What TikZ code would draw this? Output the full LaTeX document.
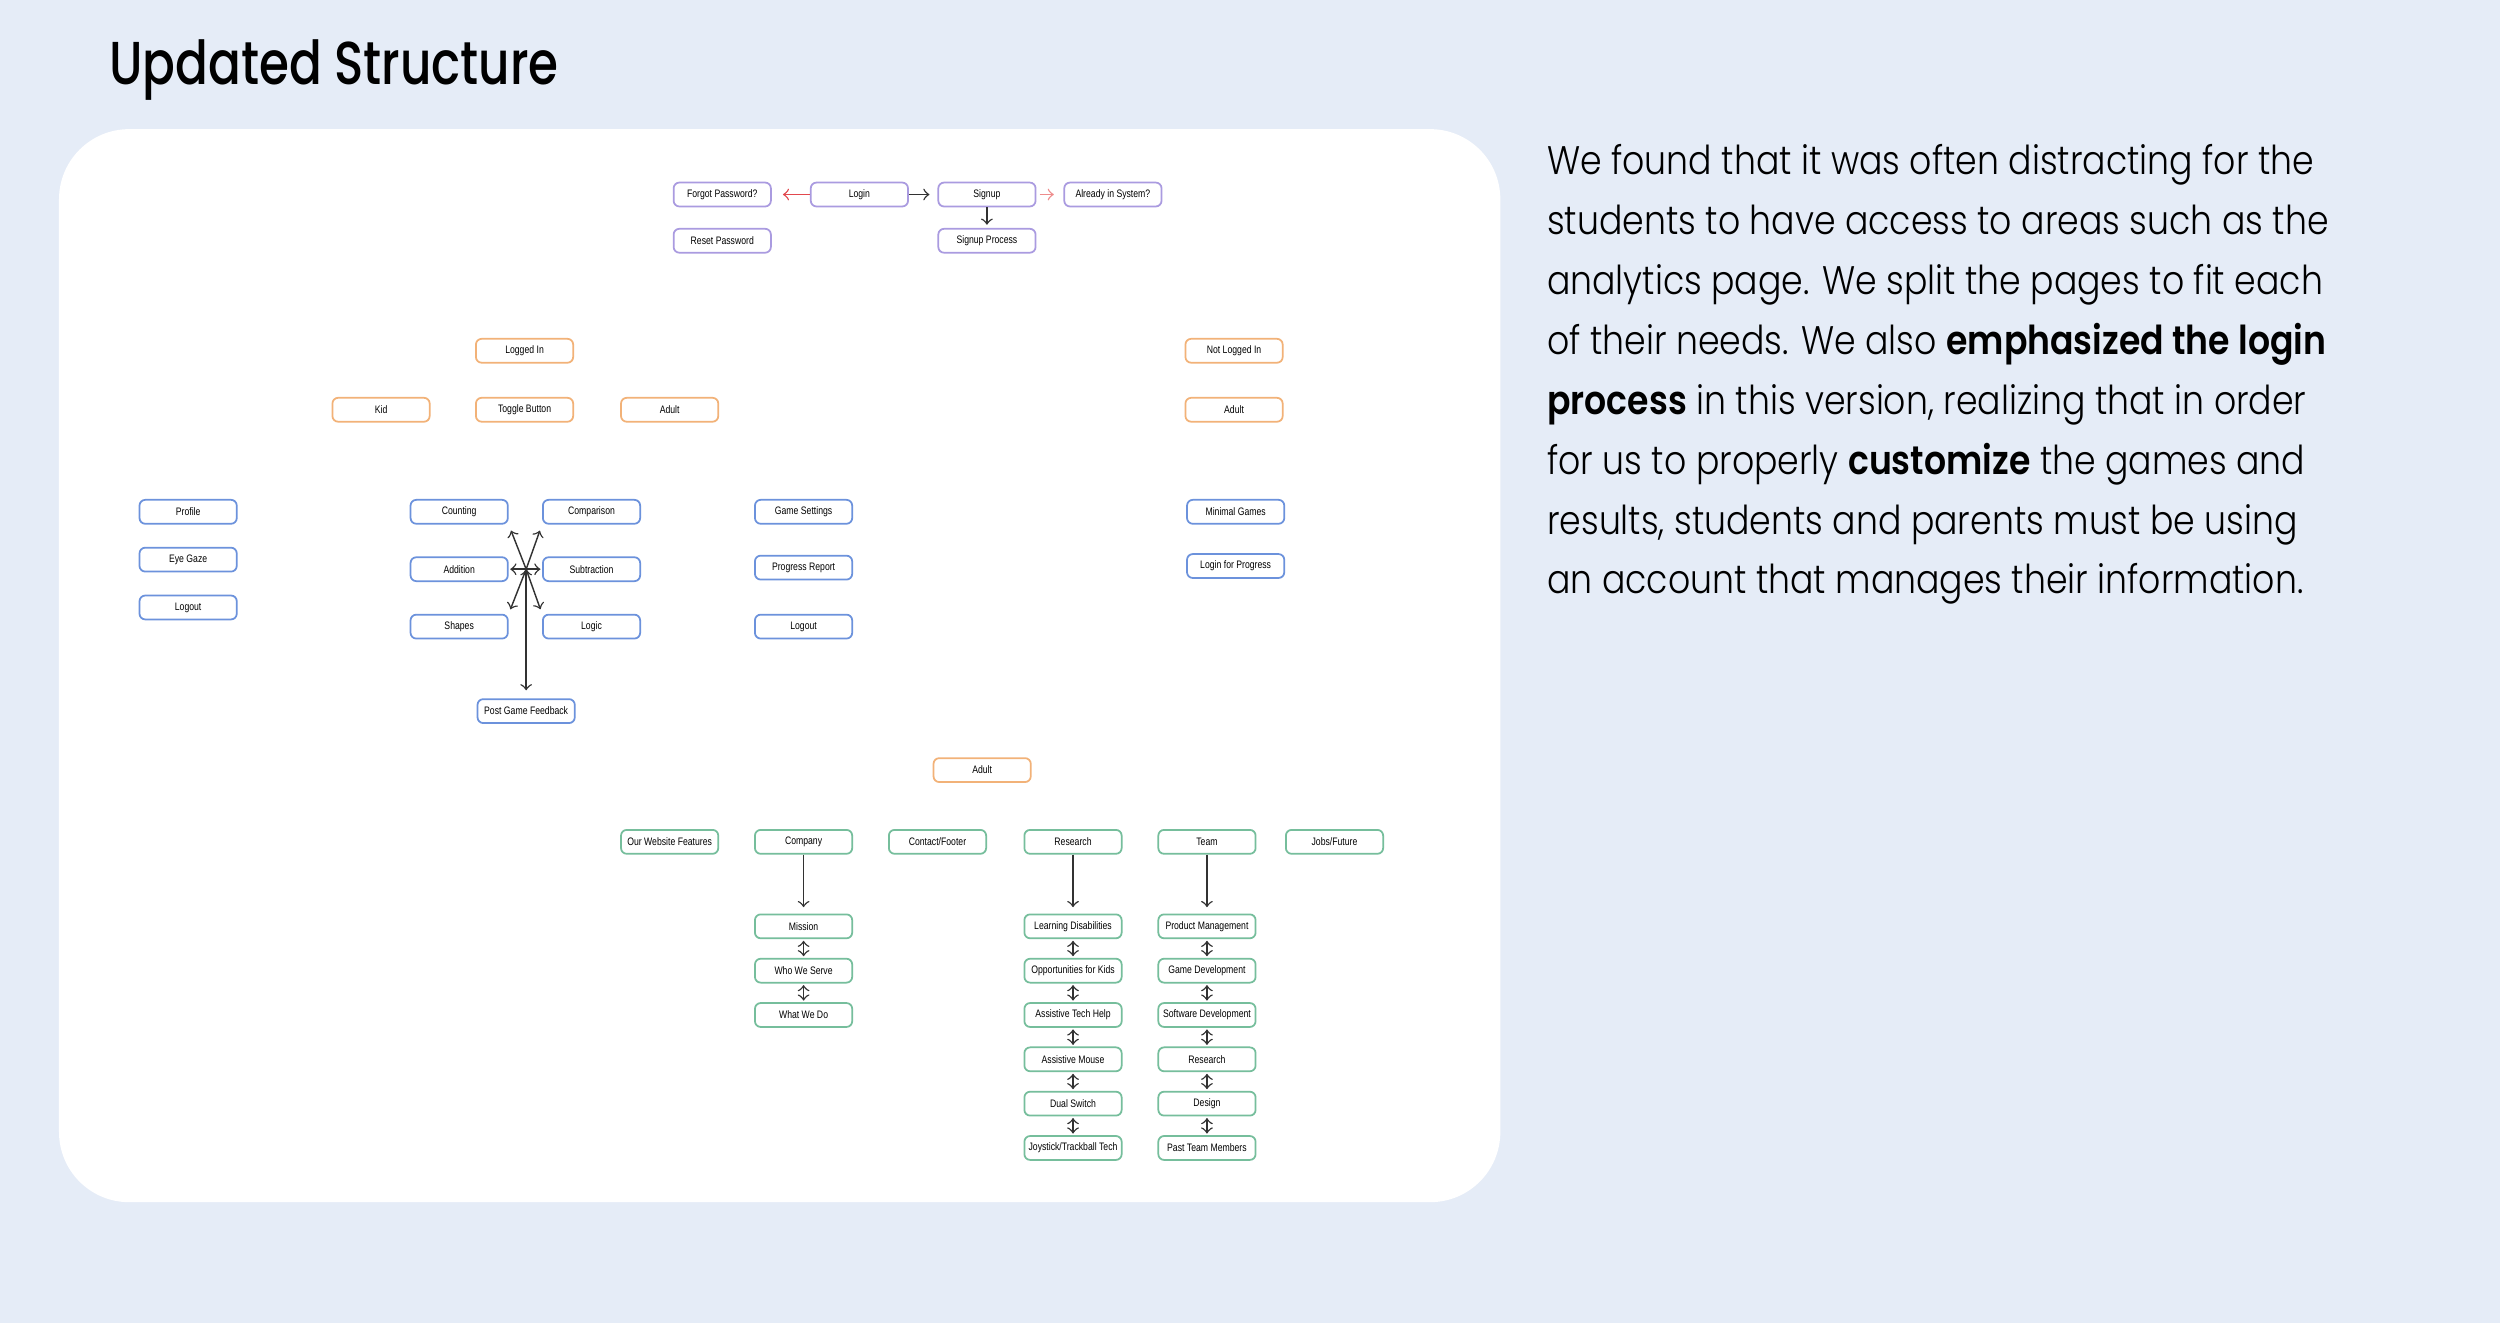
\documentclass[tikz,border=0pt]{standalone}
\usepackage{fontspec}
\setmainfont{Liberation Sans}
\newfontfamily\labelfont{Liberation Sans}[FakeStretch=0.8]
\newfontfamily\headfont{Poppins Medium}[FakeStretch=0.8]
\newfontfamily\bodyfont{Poppins Light}[BoldFont=Poppins SemiBold, FakeStretch=0.87]
\usetikzlibrary{positioning}

\definecolor{bgblue}{RGB}{229,236,247}
\definecolor{boxpurple}{RGB}{170,155,224}
\definecolor{boxorange}{RGB}{242,178,120}
\definecolor{boxblue}{RGB}{108,146,220}
\definecolor{boxgreen}{RGB}{118,190,156}
\definecolor{linkgrey}{RGB}{50,50,50}
\definecolor{linkred}{RGB}{226,72,78}
\definecolor{linkpink}{RGB}{238,140,140}

\begin{document}
\begin{tikzpicture}[x=0.5pt, y=-0.5pt, node distance={13.9pt},
    card/.style = {draw, rounded corners=1.8pt, line width=0.55pt, fill=white, minimum width=30.5pt, minimum height=7.5pt, inner sep=0pt, font=\labelfont\fontsize{3.4}{4}\selectfont},
    purplebox/.style = {card, draw=boxpurple},
    orangebox/.style = {card, draw=boxorange},
    bluebox/.style = {card, draw=boxblue},
    greenbox/.style = {card, draw=boxgreen},
    link/.style = {->, line width=0.45pt, draw=linkgrey}]

    % page and panel
    \fill[bgblue] (0,0) rectangle (1568,830);
    \useasboundingbox (0,0) rectangle (1568,830);
    \fill[white, rounded corners=22pt] (37,81) rectangle (941,754);

    \node[anchor=base west, inner sep=0pt, font=\headfont\fontsize{19}{21}\selectfont] (title) at (68,53) {Updated Structure};

    \node[anchor=north west, align=left, inner sep=0pt, font=\bodyfont\fontsize{12.5}{18.8}\selectfont] (about) at (970,90)
    {We found that it was often distracting for the\\
     students to have access to areas such as the\\
     analytics page. We split the pages to fit each\\
     of their needs. We also \textbf{emphasized the login}\\
     \textbf{process} in this version, realizing that in order\\
     for us to properly \textbf{customize} the games and\\
     results, students and parents must be using\\
     an account that manages their information.};

    % login
    \node[purplebox] (forgot) at (453,122) {Forgot Password?};
    \node[purplebox] (login) at (539,122) {Login};
    \node[purplebox] (signup) at (619,122) {Signup};
    \node[purplebox] (already) at (698,122) {Already in System?};
    \node[purplebox] (reset) at (453,151) {Reset Password};
    \node[purplebox] (sproc) at (619,151) {Signup Process};

    % accounts
    \node[orangebox] (loggedin) at (329,220) {Logged In};
    \node[orangebox] (notlogged) at (774,220) {Not Logged In};
    \node[orangebox] (kid) at (239,257) {Kid};
    \node[orangebox] (toggle) at (329,257) {Toggle Button};
    \node[orangebox] (adultl) at (420,257) {Adult};
    \node[orangebox] (adultr) at (774,257) {Adult};

    % kid pages
    \node[bluebox] (profile) at (118,321) {Profile};
    \node[bluebox] (eyegaze) at (118,351) {Eye Gaze};
    \node[bluebox] (logoutk) at (118,381) {Logout};
    \node[bluebox] (count) at (288,321) {Counting};
    \node[bluebox] (compare) at (371,321) {Comparison};
    \node[bluebox] (add) at (288,357) {Addition};
    \node[bluebox] (sub) at (371,357) {Subtraction};
    \node[bluebox] (shapes) at (288,393) {Shapes};
    \node[bluebox] (logic) at (371,393) {Logic};
    \node[bluebox] (feedback) at (330,446) {Post Game Feedback};
    \coordinate (hub) at (330,357);

    % adult and guest pages
    \node[bluebox] (settings) at (504,321) {Game Settings};
    \node[bluebox] (report) at (504,356) {Progress Report};
    \node[bluebox] (logouta) at (504,393) {Logout};
    \node[bluebox] (minimal) at (775,321) {Minimal Games};
    \node[bluebox] (loginprog) at (775,355) {Login for Progress};

    % website
    \node[orangebox] (adultc) at (616,483) {Adult};
    \node[greenbox] (features) at (420,528) {Our Website Features};
    \node[greenbox] (company) at (504,528) {Company};
    \node[greenbox] (contact) at (588,528) {Contact/Footer};
    \node[greenbox] (research) at (673,528) {Research};
    \node[greenbox] (team) at (757,528) {Team};
    \node[greenbox] (jobs) at (837,528) {Jobs/Future};

    \node[greenbox] (mission) at (504,581) {Mission};
    \node[greenbox] (serve)[below of=mission] {Who We Serve};
    \node[greenbox] (whatdo)[below of=serve] {What We Do};

    \node[greenbox] (learn) at (673,581) {Learning Disabilities};
    \node[greenbox] (opps)[below of=learn] {Opportunities for Kids};
    \node[greenbox] (techhelp)[below of=opps] {Assistive Tech Help};
    \node[greenbox] (mouse)[below of=techhelp] {Assistive Mouse};
    \node[greenbox] (dual)[below of=mouse] {Dual Switch};
    \node[greenbox] (joystick)[below of=dual] {Joystick/Trackball Tech};

    \node[greenbox] (product) at (757,581) {Product Management};
    \node[greenbox] (gamedev)[below of=product] {Game Development};
    \node[greenbox] (softdev)[below of=gamedev] {Software Development};
    \node[greenbox] (teamres)[below of=softdev] {Research};
    \node[greenbox] (design)[below of=teamres] {Design};
    \node[greenbox] (past)[below of=design] {Past Team Members};

    \path[link]
    (login) edge[draw=linkred, shorten >=3.5pt] (forgot)
    (login) edge[shorten >=2.5pt] (signup)
    (signup) edge[draw=linkpink, shorten <=1pt, shorten >=3pt] (already)
    (signup) edge[shorten >=1pt] (sproc)

    (hub) edge[shorten >=2pt] (count.south east)
    (hub) edge[shorten >=2pt] (compare.south west)
    (hub) edge[shorten >=1.5pt] (shapes.north east)
    (hub) edge[shorten >=1.5pt] (logic.north west)
    (hub) edge[shorten >=2.5pt] (feedback)
    (add) edge[<->, shorten <=0.5pt, shorten >=0.5pt] (sub)

    (company) edge[shorten >=2pt] (mission)
    (research) edge[shorten >=2pt] (learn)
    (team) edge[shorten >=2pt] (product)
    ;

    \path[link, <->, shorten <=0.5pt, shorten >=0.5pt]
    (mission) edge (serve)
    (serve) edge (whatdo)

    (learn) edge (opps)
    (opps) edge (techhelp)
    (techhelp) edge (mouse)
    (mouse) edge (dual)
    (dual) edge (joystick)

    (product) edge (gamedev)
    (gamedev) edge (softdev)
    (softdev) edge (teamres)
    (teamres) edge (design)
    (design) edge (past)
    ;
  \end{tikzpicture}
\end{document}
